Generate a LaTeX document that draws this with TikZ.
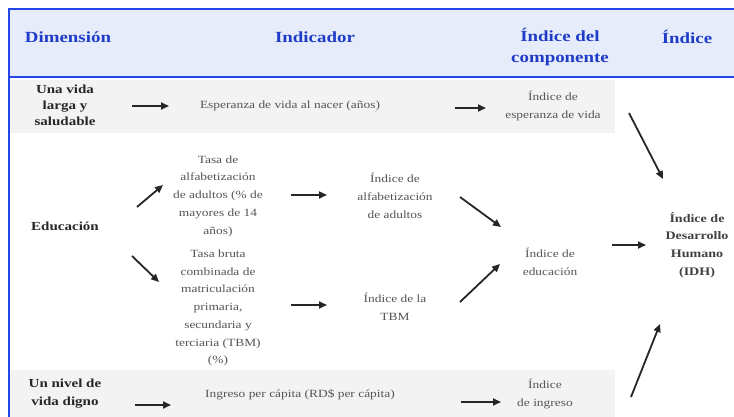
\documentclass[tikz,border=0pt]{standalone}
\usepackage{fontspec}
\setmainfont{Liberation Serif}[FakeStretch=1.22]
\usetikzlibrary{arrows.meta}
\definecolor{bblue}{HTML}{2446E8}
\definecolor{htext}{HTML}{1E3CC8}
\definecolor{hfill}{HTML}{E6ECFA}
\definecolor{band}{HTML}{F3F3F3}
\definecolor{gtext}{HTML}{555555}
\begin{document}
\begin{tikzpicture}[x=1pt,y=-1pt,
  hdr/.style={font=\fontsize{15.5}{21}\selectfont\bfseries, text=htext, align=center, inner sep=0pt},
  dim/.style={font=\fontsize{12.3}{16}\selectfont\bfseries, text=black!85, align=center, inner sep=0pt},
  txt/.style={font=\fontsize{11}{17.7}\selectfont, text=gtext, align=center, inner sep=0pt},
  arr/.style={-{Triangle[length=8pt,width=7pt]}, line width=1.8pt, black!85}]
\useasboundingbox (0,0) rectangle (734,417);
% header and bands
\fill[hfill] (9,9) rectangle (734,77);
\fill[band] (10,80) rectangle (615,133);
\fill[band] (10,370) rectangle (615,417);
\draw[bblue, line width=2pt] (9,418) -- (9,9) -- (735,9);
\draw[bblue, line width=1.5pt] (9,77) -- (735,77);
% headers
\node[hdr] (h1) at (68,37) {Dimensión};
\node[hdr] (h2) at (315,37) {Indicador};
\node[hdr] (h3) at (560,47) {Índice del\\componente};
\node[hdr] (h4) at (687,37) {Índice};
% row 1
\node[dim] (d1) at (65,105) {Una vida\\larga y\\saludable};
\node[txt] (e1) at (290,106) {Esperanza de vida al nacer (años)};
\node[txt] (c1) at (553,106) {Índice de\\esperanza de vida};
% education
\node[dim] (d2) at (65,226) {Educación};
\node[txt] (t1) at (218,196) {Tasa de\\alfabetización\\de adultos (\% de\\mayores de 14\\años)};
\node[txt] (t2) at (218,308) {Tasa bruta\\combinada de\\matriculación\\primaria,\\secundaria y\\terciaria (TBM)\\(\%)};
\node[txt] (i1) at (395,196) {Índice de\\alfabetización\\de adultos};
\node[txt] (i2) at (395,307) {Índice de la\\TBM};
\node[txt] (c2) at (550,262) {Índice de\\educación};
\node[font=\fontsize{11.5}{17.8}\selectfont\bfseries, text=black!75, align=center, inner sep=0pt] (idh) at (697,245) {Índice de\\Desarrollo\\Humano\\(IDH)};
% row 3
\node[dim, font=\fontsize{12.3}{18}\selectfont\bfseries] (d3) at (65,394) {Un nivel de\\vida digno};
\node[txt] (e3) at (300,395) {Ingreso per cápita (RD\$ per cápita)};
\node[txt] (c3) at (545,394) {Índice\\de ingreso};
% arrows
\coordinate (a1s) at (132,106); \coordinate (a1e) at (169,106);
\draw[arr] (a1s) -- (a1e);
\coordinate (a2s) at (455,108); \coordinate (a2e) at (486,108);
\draw[arr] (a2s) -- (a2e);
\coordinate (a3s) at (137,207); \coordinate (a3e) at (163,185);
\draw[arr] (a3s) -- (a3e);
\coordinate (a4s) at (132,256); \coordinate (a4e) at (159,282);
\draw[arr] (a4s) -- (a4e);
\coordinate (a5s) at (291,195); \coordinate (a5e) at (327,195);
\draw[arr] (a5s) -- (a5e);
\coordinate (a6s) at (291,305); \coordinate (a6e) at (327,305);
\draw[arr] (a6s) -- (a6e);
\coordinate (a7s) at (460,197); \coordinate (a7e) at (501,227);
\draw[arr] (a7s) -- (a7e);
\coordinate (a8s) at (460,302); \coordinate (a8e) at (500,264);
\draw[arr] (a8s) -- (a8e);
\coordinate (a9s) at (612,245); \coordinate (a9e) at (646,245);
\draw[arr] (a9s) -- (a9e);
\coordinate (a10s) at (629,113); \coordinate (a10e) at (663,179);
\draw[arr] (a10s) -- (a10e);
\coordinate (a11s) at (631,397); \coordinate (a11e) at (660,324);
\draw[arr] (a11s) -- (a11e);
\coordinate (a12s) at (135,405); \coordinate (a12e) at (171,405);
\draw[arr] (a12s) -- (a12e);
\coordinate (a13s) at (461,402); \coordinate (a13e) at (501,402);
\draw[arr] (a13s) -- (a13e);
\end{tikzpicture}
\end{document}
